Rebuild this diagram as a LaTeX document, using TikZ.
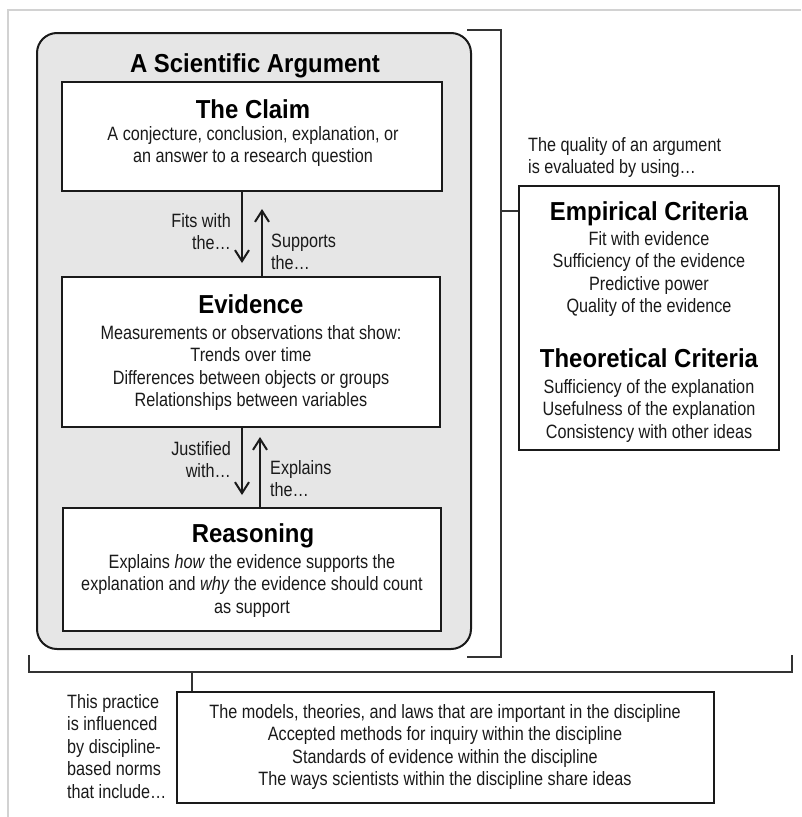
\documentclass[tikz,border=0pt]{standalone}
\usepackage{fontspec}
\setmainfont[FakeStretch=0.84]{Liberation Sans}
\newfontfamily\titlefont[FakeStretch=0.92]{Liberation Sans}
\usetikzlibrary{arrows.meta}
\definecolor{framegray}{HTML}{D2D2D2}
\definecolor{panelgray}{HTML}{E6E6E6}
\definecolor{inkdark}{HTML}{1A1A1A}
\definecolor{bracketgray}{HTML}{333333}
\newcommand\fl{\rule{0pt}{14.5pt}}
\tikzset{
  box/.style={draw=inkdark, line width=2pt, fill=white, rectangle, inner sep=0pt},
  body/.style={font=\fontsize{19.3}{22.5}\selectfont, align=center, inner sep=0pt, text=inkdark},
  ttl/.style={font=\titlefont\bfseries\fontsize{26}{29}\selectfont, inner sep=0pt, anchor=base, text=black},
  arr/.style={draw=inkdark, line width=2pt, -{Straight Barb[length=11pt,width=14pt]}},
  brk/.style={draw=bracketgray, line width=2pt},
}
\begin{document}
\begin{tikzpicture}[x=1pt,y=-1pt]
\useasboundingbox (0,0) rectangle (801,817);
% outer light frame
\draw[framegray, line width=2pt] (8,817) -- (8,10) -- (801,10);
% rounded panel
\node[draw=inkdark, line width=2pt, fill=panelgray, rounded corners=20pt, minimum width=434, minimum height=616, inner sep=0pt] (panel) at (254,341) {};
\node[ttl] (ttlarg) at (255,72) {A Scientific Argument};
% boxes
\node[box, minimum width=380, minimum height=109] (claim) at (252,136.5) {};
\node[box, minimum width=378, minimum height=150] (evidence) at (251,352) {};
\node[box, minimum width=378, minimum height=123] (reasoning) at (251.5,569.5) {};
% claim text
\node[ttl] (ttlclaim) at (253,118) {The Claim};
\node[body, anchor=north] (txtclaim) at (253,125.5) {\fl A conjecture, conclusion, explanation, or\\an answer to a research question};
% evidence text
\node[ttl] (ttlev) at (251,313) {Evidence};
\node[body, anchor=north] (txtev) at (251,324.5) {\fl Measurements or observations that show:\\Trends over time\\Differences between objects or groups\\Relationships between variables};
% reasoning text
\node[ttl] (ttlreas) at (253,542) {Reasoning};
\node[body, anchor=north] (txtreas) at (252,553.5) {\fl Explains \textit{how} the evidence supports the\\explanation and \textit{why} the evidence should count\\as support};
% arrows claim/evidence
\coordinate (tipA) at (242,263);
\coordinate (tipB) at (262,209);
\draw[arr] (claim.south -| tipA) -- (tipA);
\draw[arr] (evidence.north -| tipB) -- (tipB);
\node[body, align=right, anchor=north east] (fits) at (231,212.5) {\fl Fits with\\the…};
\node[body, align=left, anchor=north west] (supp) at (271,232.5) {\fl Supports\\the…};
% arrows evidence/reasoning
\coordinate (tipC) at (242,495);
\coordinate (tipD) at (260,437);
\draw[arr] (evidence.south -| tipC) -- (tipC);
\draw[arr] (reasoning.north -| tipD) -- (tipD);
\node[body, align=right, anchor=north east] (just) at (231,440.5) {\fl Justified\\with…};
\node[body, align=left, anchor=north west] (expl) at (270,459.5) {\fl Explains\\the…};
% right bracket
\coordinate (brTop) at (467,30);
\coordinate (brBot) at (467,657);
\draw[brk] (brTop) -- (501,30) -- (501,657) -- (brBot);
\node[body, align=left, anchor=north west] (quality) at (528,136.5) {\fl The quality of an argument\\is evaluated by using…};
\node[box, minimum width=260, minimum height=264] (criteria) at (648.5,318) {};
\coordinate (brMid) at (501,211);
\draw[brk] (brMid) -- (criteria.west |- brMid);
\node[ttl] (ttlemp) at (649,220) {Empirical Criteria};
\node[body, anchor=north] (txtemp) at (649,230.5) {\fl Fit with evidence\\Sufficiency of the evidence\\Predictive power\\Quality of the evidence};
\node[ttl] (ttltheo) at (649,367) {Theoretical Criteria};
\node[body, anchor=north] (txttheo) at (649,378.5) {\fl Sufficiency of the explanation\\Usefulness of the explanation\\Consistency with other ideas};
% bottom bracket
\draw[brk] (29,655) -- (29,672) -- (792,672) -- (792,655);
\node[box, minimum width=537, minimum height=111] (norms) at (445.5,747.5) {};
\coordinate (bMid) at (192,672);
\draw[brk] (bMid) -- (norms.north -| bMid);
\node[body, align=left, anchor=north west] (practice) at (67,693.5) {\fl This practice\\is influenced\\by discipline-\\based norms\\that include…};
\node[body, anchor=north] (txtnorms) at (445,703.5) {\fl The models, theories, and laws that are important in the discipline\\Accepted methods for inquiry within the discipline\\Standards of evidence within the discipline\\The ways scientists within the discipline share ideas};
\end{tikzpicture}
\end{document}
